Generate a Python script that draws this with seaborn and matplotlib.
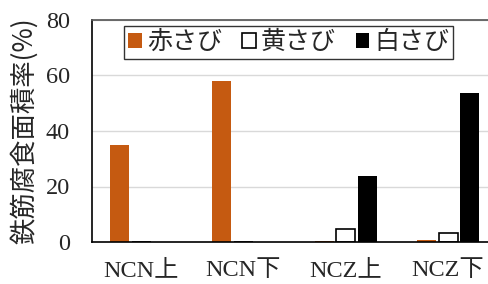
import matplotlib
matplotlib.use('Agg')
import matplotlib.pyplot as plt
import numpy as np
import pandas as pd
import seaborn as sns

sns.set_theme(style='white')
plt.rcParams['font.family'] = ['Liberation Serif', 'Noto Sans CJK JP']
plt.rcParams['font.size'] = 18

# データ
groups = ['NCN上', 'NCN下', 'NCZ上', 'NCZ下']
rust_types = ['赤さび', '黄さび', '白さび']
aka = [35.0, 58.0, 0.5, 0.8]
ki = [0.0, 0.0, 4.7, 3.1]
shiro = [0.0, 0.0, 23.9, 53.7]
yticks = [0, 20, 40, 60, 80]

df = pd.DataFrame({
    'group': groups * 3,
    'type': [rust_types[0]] * 4 + [rust_types[1]] * 4 + [rust_types[2]] * 4,
    'value': aka + ki + shiro,
})

clist = ['#C55A11', '#FFFFFF', '#000000']

fig = plt.figure(figsize=(4.88, 2.84), dpi=100)
ax = fig.add_axes([92 / 488, 42 / 284, 396 / 488, 222 / 284])
sns.barplot(data=df, x='group', y='value', hue='type', order=groups,
            hue_order=rust_types, palette=clist, saturation=1, width=0.63, gap=0.12,
            linewidth=0, legend=False, ax=ax)

# 黄さびだけ黒枠
for bar in ax.containers[1]:
    bar.set_edgecolor('black')
    bar.set_linewidth(1.2)
for bar in ax.containers[2]:
    bar.set_edgecolor('black')

ax.set_xlim(-0.48, 3.39)
ax.set_ylim(0, 80)
ax.set_yticks(yticks)
ax.yaxis.grid(True, color='#d9d9d9', lw=1)
ax.set_axisbelow(True)
ax.spines['right'].set_visible(False)
ax.spines['top'].set_color('#595959')
ax.spines['left'].set_color('black')
ax.spines['bottom'].set_color('black')
ax.spines['left'].set_linewidth(1.2)
ax.spines['bottom'].set_linewidth(1.2)
ax.tick_params(axis='y', direction='in', length=7, width=1, color='black', pad=16, labelsize=17.5)
ax.tick_params(axis='x', length=0, pad=13, labelsize=17.5)
ax.set_xlabel('')
ax.set_ylabel('鉄筋腐食面積率(%)', family=['Noto Sans CJK JP'], fontsize=19, labelpad=5)

leg = ax.legend(handles=ax.containers, labels=rust_types, ncol=3, loc='upper center',
                bbox_to_anchor=(0.497, 0.975), frameon=True, fancybox=False,
                edgecolor='black', handlelength=0.55, handleheight=0.55,
                handletextpad=0.2, columnspacing=0.8, borderpad=0.15,
                borderaxespad=0, prop={'family': 'Noto Sans CJK JP', 'size': 18})
leg.get_frame().set_linewidth(1.0)

plt.savefig('out.png', dpi=100)
